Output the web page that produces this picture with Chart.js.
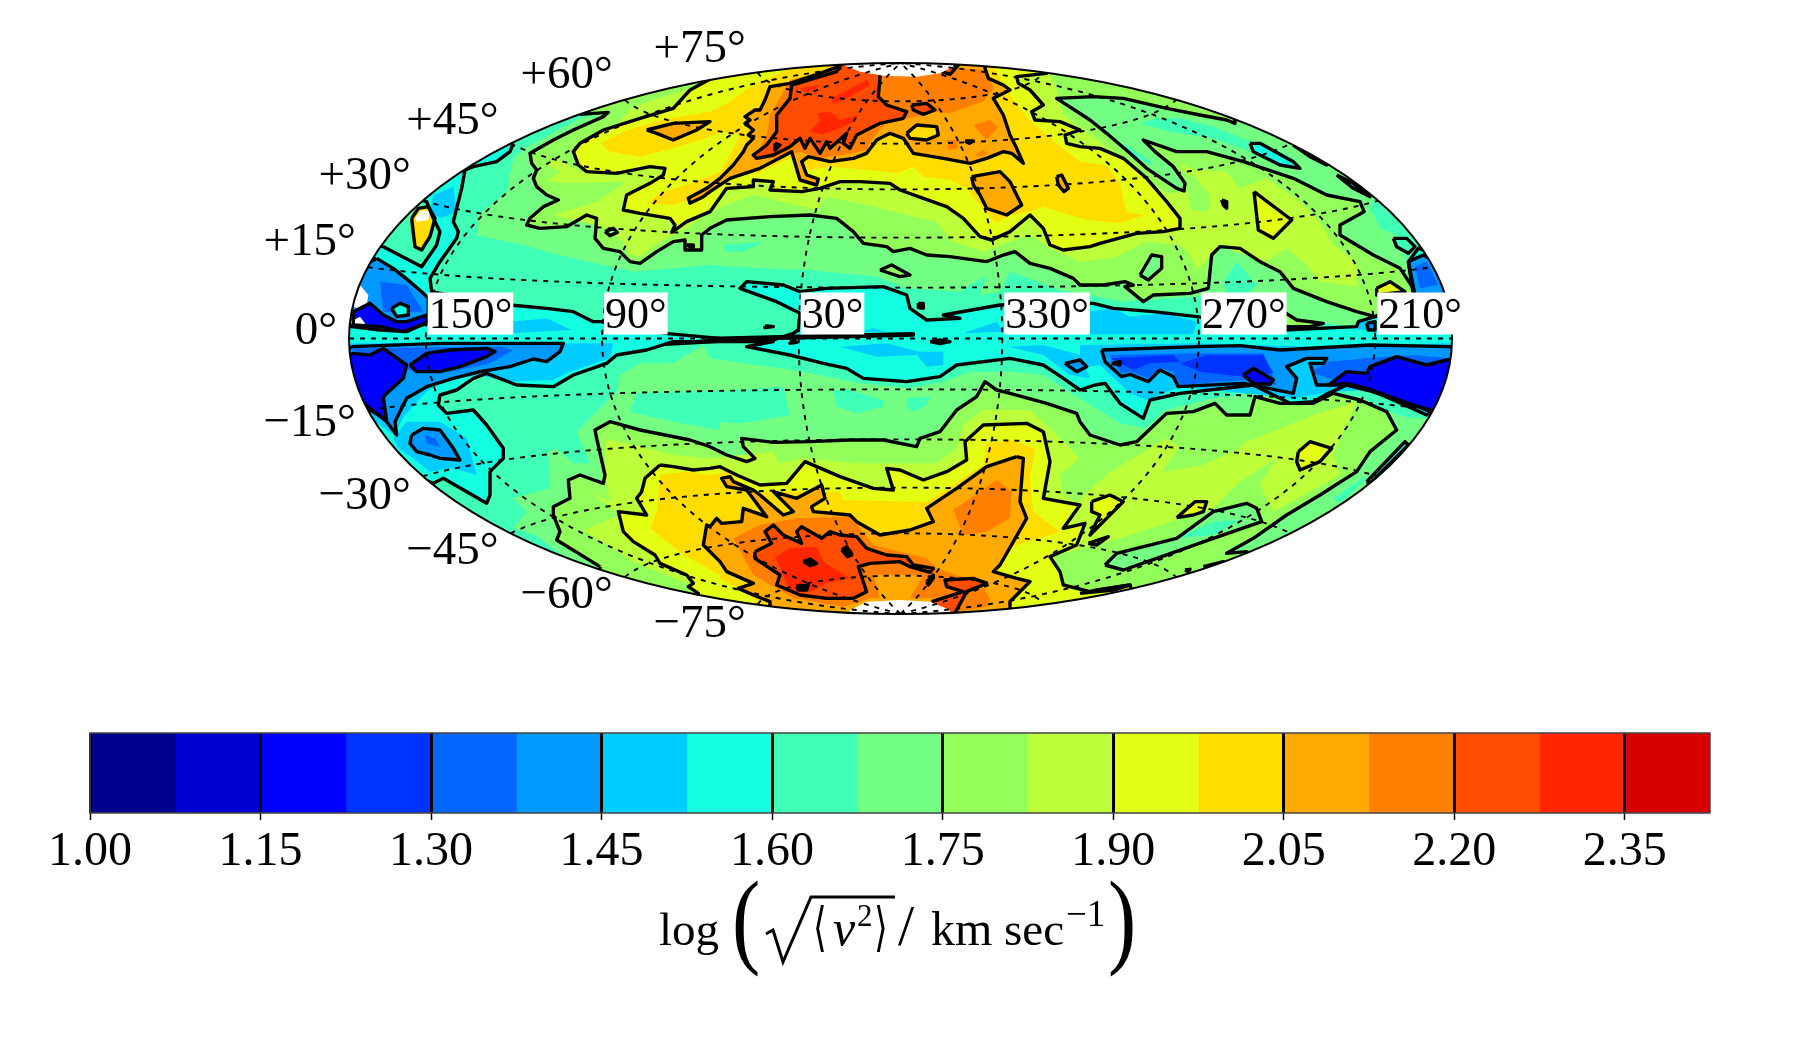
<!DOCTYPE html>
<html>
<head>
<meta charset="utf-8">
<title>Velocity dispersion sky map</title>
<script src="https://cdn.jsdelivr.net/npm/chart.js@4/dist/chart.umd.min.js"></script>
<style>
html,body{margin:0;padding:0;background:#fff;width:1800px;height:1050px;overflow:hidden}
canvas{position:absolute;left:0}
#skyMap{top:0}
#bandKey{top:700px}
</style>
</head>
<body>
<canvas id="skyMap" width="1800" height="700"></canvas>
<canvas id="bandKey" width="1800" height="350"></canvas>
<script>
// Colour bands of log(sqrt(<v^2>)/km s^-1), lowest to highest.
const bandColors = ['#00008f','#0000d0','#0000ff','#0033ff','#0066ff','#0099ff','#00ccff','#14ffe1',
  '#40ffb7','#73ff83','#93ff5b','#bcff3a','#e2ff14','#ffdd00','#ffaa00','#ff7f00','#ff4d00','#ff2600','#d60000'];
const bandStart = 1.0;
const bandStep = 0.075;
const keyTickValues = [1.00,1.15,1.30,1.45,1.60,1.75,1.90,2.05,2.20,2.35];

// Graticule of the Hammer projection, centred on longitude 0.
const meridians = [-150,-90,-30,30,90,150];
const parallels = [-75,-60,-45,-30,-15,0,15,30,45,60,75];
const longitudeLabels = [[-150,'150°'],[-90,'90°'],[-30,'30°'],[30,'330°'],[90,'270°'],[150,'210°']];
// Latitude, text, and the small vertical nudge each label needs off the rim.
const latitudeLabels = [[75,'+75°',-10],[60,'+60°',-12],[45,'+45°',-10],[30,'+30°',-12],[15,'+15°',-12],[0,'0°',5],
  [-15,'−15°',26],[-30,'−30°',33],[-45,'−45°',31],[-60,'−60°',31],[-75,'−75°',32]];

// Contours are digitised on six map sheets; each run names its sheet, then lists
// sheet-local points at three units to one unit of the projection plane.
const sheetOrigins = {A:[-560,-283],B:[-190,-283],C:[180,-283],D:[-560,-3],E:[-190,-3],F:[180,-3]};

const mapFrame = ['A -1000,-500','C 2000,-500','F 2000,2000','D -1000,2000'];

const band168North = ['A 555,280 720,190 830,160 830,-50',
 'C 1100,-50 1200,300 880,430 870,470 960,530 970,590 1000,680 1000,720 880,810 780,810 620,790 500,750 380,722 130,740 0,715',
 'B 1050,705 900,650 870,710 810,720 830,660 750,710 590,700 500,665 300,645 150,640 0,630',
 'A 880,650 680,605 550,570 410,540 415,480 500,410 520,310'];
const band168South = ['D 520,490 630,460 625,350 650,340 700,385 750,385 710,290 760,240 830,170 840,120 900,85 1000,85 1090,30',
 'E 0,70 140,90 280,110 450,145 600,160 700,140 780,110 900,110 1000,120 1090,180 1110,190',
 'F 120,265 200,280 255,225 400,190 520,175 700,195 840,185 950,240 1000,250 1200,250 1200,800 620,1000 0,1000',
 'D 1140,1000 585,600 520,580 560,530'];
const pockets160 = [
 ['C 180,205 270,230 400,250 500,285 590,320 660,345 640,310 560,270 500,255 400,215 300,190 230,190'],
 ['C 610,260 660,280 760,340 880,430 890,410 700,270'],
 ['C 130,265 215,320 210,330 150,295'],
 ['C 880,470 950,500 1000,540 960,545 900,520'],
 ['C 430,680 470,620 530,690 500,720 440,720'],
 ['B 40,570 160,560 100,590 50,590'],
 ['E 0,170 220,155 240,240 100,265 0,260'],
 ['D 870,230 890,175 1140,165 1140,285 1000,260'],
 ['E 370,170 400,160 520,195 520,215 440,235 380,215'],
 ['E 590,190 660,185 650,210 610,230 590,215'],
 ['F 760,490 860,420 850,440 780,505']];

const contour175North = ['A 720,178','B 0,-60 570,-80 1140,-60',
 'C 465,150 465,205 440,195 360,180 260,160 130,130 40,125 -70,130 30,195 80,235 150,295 200,340 290,400 312,408 315,385 280,335 225,290 190,255 290,290 380,290 490,320 640,370 740,420 840,440 852,470 780,510 780,540 880,600 960,640 1000,700 1010,780 885,785 830,770 740,740 640,700 600,650 540,620 480,580 420,575 395,600 385,700 330,715 220,720 190,740 135,695 160,690 135,680 70,690 0,690',
 'B 1090,670 1020,640 960,625 915,590 880,600 830,620 720,605 650,600 600,580 550,590 530,575 460,565 430,530 380,490 300,480 180,485 50,495 0,520',
 'A 1085,540 1085,585 1035,585 1035,555 1000,560 950,590 900,625 870,620 840,590 790,580 765,550 770,490 740,480 680,515 600,520 560,510 570,490 610,455 655,435 620,420 590,395 580,370 590,345 575,325 570,295 640,255 700,225 790,185 805,172'];
const contour175South = ['D 780,695 650,615 660,590 640,540 640,515 690,490 685,435 720,420 790,445 795,420 770,310 765,285 810,260 900,285 1050,315',
 'E 0,335 50,360 110,380 135,370 100,335 95,310 190,322 300,320 420,315 520,315 620,335 630,310 690,290 740,225 800,185 825,140 860,165 900,175 1010,205 1100,235 1110,260',
 'F 30,300 120,330 170,320 260,235 340,230 405,205 440,240 510,240 525,185 600,205 700,205 760,175 840,195 920,230 950,285 870,350 830,410 720,480 620,540 520,610 440,655 500,650 600,700 600,1000 0,1000',
 'D 1140,1000 780,720'];
const islands175 = [
 ['C 180,660 215,600 245,605 245,640 205,675'],
 ['F 75,690 110,655 290,610 400,530 500,505 530,520 545,560 400,610 230,670 130,705'],
 ['A 795,530 820,520 832,532 810,542']];
const islands175High = [
 ['B 510,645 545,630 600,660 570,665'],
 ['C 610,770 650,795 730,805 690,815 610,815']];
const pocket160Tongue = ['F 290,610 400,560 480,555 400,600'];

const band183North = ['A 880,155 1140,70','B 500,-50 1000,-50 1020,50 1040,100 1060,180',
 'C 60,260 140,320 190,370 260,415 325,410 330,370 290,320 340,345 440,350 480,400 560,370 660,440 720,500 760,570 830,620 830,695 720,680 680,630 620,580 560,620 500,600 420,575 350,645 330,600 300,570 200,560 100,610 0,620',
 'B 1020,580 960,540 870,570 820,590 730,560 680,500 630,490 470,450 350,425 320,465 130,420 0,470',
 'A 1040,520 960,560 900,605 870,600 850,560 800,520 640,480 770,440 860,380 700,385 620,380 660,350 620,330 650,310 720,350 850,360 900,330 740,345 700,300 780,260'];
const band183South = ['D 750,470 810,500 795,420 795,310 880,330 1000,360 1110,370',
 'E 190,350 205,385 280,370 440,385 680,385 740,340 760,270 820,225 960,225 1020,280 1110,370 1050,420 1060,480 1100,500',
 'F 85,415 260,310 300,335 245,410 370,390 480,340 490,325 700,240 830,200 790,290 760,360 780,420 580,530 540,450 590,370 480,440 400,520 120,610 -30,650',
 'E 1040,660 1030,680 1060,740 1140,770','F 150,745 200,900','D 1075,900 1075,760 880,680 730,585 840,540'];
const pocket175Tongue = ['C 330,350 390,420 385,470 335,465 325,420'];

const contour190North = ['A 1050,105 1000,160 900,190 790,225 720,265 700,290 715,330 740,350 830,355 930,335 975,340 970,360 930,385 860,420 850,465 900,475 990,490 1005,510 995,532 1040,500 1110,470',
 'B 50,400 130,395 130,375 190,380 180,405 275,410 330,400 390,380 450,380 540,385 570,405 640,430 710,455 760,490 810,545 845,555 900,530 960,480 1000,520 1020,570 1060,585 1140,575',
 'C 60,565 170,535 250,530 300,520 300,490 260,440 200,370 130,310 60,280 0,275',
 'B 1070,265 1065,240 1110,225 1050,200 975,195 965,170 1000,150 960,105 925,85 920,65 1010,55 1010,-50 60,-50 60,40'];
const contour190South = ['D 960,390 1000,395 1060,405 1110,400',
 'E 30,395 80,420 150,450 230,445 285,380 390,425 490,460 550,465 530,400 570,405 640,435 710,410 770,375 765,320 820,270 950,265 1000,290 1020,380 1000,490 1110,510 1060,580 1125,565 1100,630 1020,665 1050,710 1060,750 1140,770',
 'F 50,765 150,750 200,900','D 1075,900 1075,775 1045,755 1060,745 1040,720 960,685 945,660 880,620 850,590 835,530 920,540 890,490 905,470 915,430'];
const islands190 = [
 ['C 522,410 635,495 580,550 535,525'],
 ['F 655,350 690,320 755,340 720,380 660,405 650,380'],
 ['F 290,548 345,500 380,500 370,530 340,540'],
 ['F 35,500 90,480 130,500 70,560 30,600 60,540 35,530'],
 ['F 25,625 85,605 50,630'],
 ['C 890,700 930,680 975,710 890,720']];

const band198North = ['A 780,265 850,230 960,195 1110,170',
 'B 60,140 120,95 230,45 400,-50 825,-50 860,50 905,125 950,185 1010,240 1110,320',
 'C 80,330 120,385 140,470 195,480 120,505 20,495',
 'B 1000,455 960,470 900,480 860,505 825,470 770,400 720,375 640,365 610,335 560,355 470,345 360,335 300,345 240,310 150,350 60,370',
 'A 1100,415 1000,450 920,445 960,415 1040,390 1140,350','B 60,300 90,240 40,230 0,245','A 1000,280 900,305 810,290'];
const band198South = ['D 960,420 950,530 930,580 1030,660 1140,720',
 'E 30,730 130,790 180,900 880,900 880,790 950,740 860,710 890,640 1050,590 970,530 960,430 975,340 900,315 830,325 820,390 650,500 400,495 390,470 300,470 130,470 50,410 0,420',
 'D 1050,410 990,415'];

const contour205North = ['B 385,35 385,-50 825,-50 825,40 835,70 880,90 900,105 850,130 880,180 900,240 920,280 940,325 905,295 880,290 830,310 780,325 700,310 610,295 580,250 540,235 500,255 470,295 430,310 360,320 295,305 275,320 290,360 325,372 320,390 270,375 245,290 150,340 60,370 0,410',
 'A 1090,425 1050,445 1045,430 1100,400','B 30,370 70,330 100,290 110,270 130,250 115,240 130,225 105,205 120,195 105,185 135,165 150,165 165,135 180,95 240,85 330,55'];
const contour205South = ['E 920,365 830,395 740,460 650,520 670,560 600,585 510,600 440,560 420,540 310,530 305,515 345,490 335,450 260,490 190,470 250,530 220,540 150,480 130,465 70,440 60,425 35,430 50,455 110,465 170,545 100,520 95,560 35,565 20,550 0,575',
 'D 1100,570 1090,630 1140,680','E 50,710 130,745 85,760 130,780 180,800 180,900 900,900 900,800 920,780 960,740 920,730 850,710 870,690 950,550 930,500 940,370'];
const islands205 = [
 ['B 785,365 870,350 900,380 935,450 890,480 830,460 810,420 790,390'],
 ['A 920,225 1000,205 1110,200 1070,225 1000,255 950,235'],
 ['B 1040,365 1055,360 1075,400 1062,410 1045,390']];
const holes205 = [['B 590,235 620,210 680,215 685,240 650,255 600,250']];

const band213North = ['B 240,75 380,40 510,40 730,40 825,45 850,100 820,140 760,160 720,175 680,170 600,190 530,200 480,260 470,285 400,300 330,310 270,290 190,310 130,315 170,240 180,180 220,110'];
const band213South = ['E 70,610 150,570 260,550 420,545 490,630 650,670 680,700 810,745 840,790 830,815 740,830 700,790 650,790 480,790 400,815 250,790 130,720'];
const patches213 = [
 ['B 790,210 840,195 865,215 830,255'],
 ['B 710,255 740,255 745,280 715,285'],
 ['B 795,300 820,285 830,295 810,305'],
 ['E 730,525 860,435 905,470 900,550 830,590 760,600']];

const contour220North = ['B 510,65 505,125 530,150 590,170 580,190 510,205 440,240 420,280 400,265 410,235 360,280 350,260 330,295 300,250 285,280 270,250 240,275 190,300 140,310 130,300 170,270 200,230 200,180 240,130 245,90 380,50 400,20 510,20'];
const contour220South = ['E 135,650 185,625 165,590 190,570 220,600 275,625 260,590 275,575 335,610 360,590 390,600 440,605 470,640 530,660 590,665 610,690 670,700 660,712 600,695 570,680 480,685 445,695 470,770 430,790 350,790 270,780 200,750 210,720 135,670'];
const contour220SouthEast = ['E 665,800 760,770 710,755 705,735 790,730 830,745 770,770 740,825 700,900'];
const islands220 = [['B 605,150 650,145 675,165 640,178 610,165'],['B 695,30 695,50 720,58 745,30']];
const lensSouth205 = ['E 490,720 640,720 600,790 510,790'];
const patches228 = [
 ['B 270,100 330,90 310,105 280,110'],
 ['B 365,130 470,75 480,90 420,125 370,148'],
 ['B 320,175 360,170 390,195 445,180 430,200 390,220 340,238 300,230 330,195'],
 ['E 195,665 240,640 320,635 340,680 420,730 350,745 300,770 240,770']];

const contour160 = ['A 520,265 510,290 470,320 400,335 375,345 365,400 340,500 355,530 350,550 300,620 270,670 275,710 400,735 510,750 620,760 700,770 760,800 795,800 975,835 1140,850',
 'B 190,855 250,835 265,825 270,775 200,740 90,700 110,680 220,690 270,710 350,700 520,695 590,720 600,760 650,795 750,790 700,780 870,750 1000,745',
 'C 40,745 100,760 220,770 350,785 610,825 830,815 835,800 885,785 1000,720 985,620 1015,580 1200,640 1200,950',
 'F 1040,240 940,195 860,160 800,150 745,175 700,200 630,205 520,150 300,175 210,195 190,250 120,205 75,145 45,150 0,165',
 'E 1060,130 1000,90 900,70 740,90 690,125 590,140 460,130 410,100 340,85 240,60 110,35 190,20 0,20',
 'D 1000,20 920,45 830,60 800,85 700,120 640,155 530,150 440,115 400,130 350,165 300,180 295,210 320,235 400,225 440,270 490,340 490,370 450,410 450,480 440,505 310,430 280,445 -100,300 -100,0',
 'A -100,700 400,250'];
const loopNorthWest160 = ['A 130,575 245,635 290,570 300,530 280,490 260,440 100,400 40,560'];
const slivers160 = [
 ['C 510,265 540,265 640,320 660,340 600,330 520,290'],
 ['C 640,270 720,320 740,330 690,305'],
 ['C 770,360 820,385 870,425 820,400'],
 ['F 860,440 975,320 985,330 870,445'],
 ['A 155,760 180,745 205,755 205,780 170,785']];
const loopEastEdge160 = ['C 940,550 980,550 1005,575 985,595 950,575'];

const patches150 = [
 ['A 510,800 620,790 695,825 510,835'],
 ['C 20,770 100,760 150,785 250,775 350,800 340,838 20,838'],
 ['B 450,830 490,820 530,830'],
 ['B 760,835 860,800 880,830'],
 ['C 830,805 885,795 885,825 835,825'],
 ['D 160,300 195,240 260,170 310,135 420,120 500,140 640,135 690,110 810,70 820,25 35,25 -100,100'],
 ['E 390,35 530,25 630,50 700,50 700,90 650,95 620,60 500,65'],
 ['E 895,35 1000,30 1110,60 1140,130 1080,120 1000,60'],
 ['F 0,30 350,25 700,35 1110,25 1200,150 1040,240 860,165 760,170 640,190 300,155 200,195 150,175 60,90 0,100'],
 ['D 160,310 200,260 300,260 380,310 410,420 340,400 270,410 220,370 175,340'],
 ['A 280,420 340,395 350,470 300,490 270,470']];

const contours145 = [
 ['D 35,35 300,25 670,25 660,50 620,80 580,72 510,95 420,110 340,130 260,155 200,190 165,260 170,300 140,260 90,220 -50,100'],
 ['F 65,45 350,35 480,32 600,45 870,30 1110,35 1200,100 1200,300 1040,225 860,160 800,145 745,150 710,150 690,85 730,85 740,70 680,70 620,95 650,130 640,175 490,145 295,155 280,125 240,105 205,140 150,118 125,125 75,80'],
 ['A 110,610 160,640 210,680 250,715 265,730 265,800 200,830 120,825 35,815 -50,700'],
 ['E 1065,85 1110,75 1130,95 1100,110'],
 ['D 215,300 250,280 300,285 340,340 360,375 300,370 270,360 230,350 210,325'],
 ['C 985,620 1030,600 1100,640 1100,720 1005,720'],
 ['C 860,805 885,800 885,825 865,825']];
const patches138 = [
 ['D 130,150 200,100 230,115 330,110 450,85 520,45 480,35 35,40'],
 ['F 90,60 340,55 550,55 590,150 490,135 300,150 280,110 240,100 205,130 150,110 125,115'],
 ['F 690,110 745,80 860,70 1000,60 1110,70 1110,130 1050,200 860,150 745,130'],
 ['A 120,680 200,690 250,770 130,770'],
 ['D 255,300 285,310 300,335 260,325'],
 ['C 1005,635 1040,620 1075,690 1020,700']];
const patches123 = [
 ['F 90,70 280,60 300,80 210,85 160,105'],
 ['F 300,85 380,60 550,60 580,115 490,125 360,110']];
const contours130 = [
 ['D 35,55 90,60 130,40 200,90 190,130 135,180 130,190 140,255 90,225 -50,100'],
 ['D 210,90 260,55 330,45 440,40 465,50 440,65 360,95 300,110 230,110'],
 ['F 490,120 520,100 580,135 570,148 520,145'],
 ['F 745,150 800,110 860,115 870,95 950,65 1040,90 1100,75 1200,60 1200,300 1050,225 860,165 800,150'],
 ['A 40,770 90,745 130,780 170,800 200,800 260,780 260,805 190,830 120,815 40,810']];

// Very small closed contours that read as solid specks.
const specks = [
 ['B 0,850 300,843 610,836 610,840 300,848 0,855'],
 ['A 975,866 1140,855 1140,859 975,868'],
 ['E 660,20 690,15 720,20 690,26'],
 ['E 240,20 255,17 260,22 240,25'],
 ['B 165,812 190,815 165,818'],
 ['C 425,435 440,440 440,460 430,450'],
 ['A 1040,570 1060,570 1060,580'],
 ['B 765,258 790,258 778,265'],
 ['B 195,265 210,270 195,285'],
 ['B 625,745 640,745 640,760 625,758'],
 ['E 280,680 300,672 320,685 300,692'],
 ['E 260,755 295,750 290,765 265,765'],
 ['E 650,740 670,720 670,730 655,750'],
 ['E 395,645 410,635 425,660 412,665'],
 ['F 95,85 120,80 120,90'],
 ['F 315,705 330,703 325,710'],
 ['F 370,695 430,680 400,695'],
 ['F 0,775 60,765 150,750 100,765']];

// Pixels without enough stars are left blank.
const blankPolarNorth = ['B 400,-50 400,30 450,50 520,62 620,65 690,55 730,35 730,-50'];
const blankPolarSouth = ['E 420,900 420,825 470,800 570,795 660,800 720,825 720,900'];
const blankEdge = [
 ['A 20,740 60,690 85,720 80,750 50,760'],
 ['A 30,800 60,785 75,805 55,820 30,815'],
 ['A 225,490 245,465 270,470 265,495 230,500']];
const edgeBlob = ['A 215,490 235,460 265,455 285,490 270,545 245,585 225,575 220,535'];

// Projection plane: one unit per device pixel, semi-axes 551.5 by 275.5.
const planeCentre = {x:0.5, y:0.5};
const planeRadius = {x:551.5, y:275.5};

function ring(runs){
  const pts = [];
  runs.forEach(run => {
    const parts = run.trim().split(/\s+/);
    const o = sheetOrigins[parts[0]];
    parts.slice(1).forEach(p => {
      const [a,b] = p.split(',').map(Number);
      pts.push({x:a/3+o[0], y:b/3+o[1]});
    });
  });
  pts.push({...pts[0]});
  return pts;
}
function hammer(lon, lat){
  const l = lon*Math.PI/360, f = lat*Math.PI/180;
  const d = Math.sqrt(1+Math.cos(f)*Math.cos(l));
  return {x: planeCentre.x + planeRadius.x*Math.cos(f)*Math.sin(l)/d,
          y: planeCentre.y - planeRadius.y*Math.sin(f)/d};
}
const band = i => bandColors[i];
const datasets = [];
function area(runs, color){
  datasets.push({data:ring(runs), showLine:true, fill:'shape', backgroundColor:color, borderWidth:0, pointRadius:0, tension:0});
}
function outline(runs){
  datasets.push({data:ring(runs), showLine:true, fill:false, borderColor:'#000', borderWidth:3.4, borderJoinStyle:'round', pointRadius:0, tension:0});
}

// Fills from the plain background upward, then the low-velocity plane on top.
area(mapFrame, band(8));
area(band168North, band(9)); area(band168South, band(9));
pockets160.forEach(r => area(r, band(8)));
area(contour175North, band(10)); area(contour175South, band(10));
area(band183North, band(11)); area(band183South, band(11));
area(pocket175Tongue, band(10));
islands175.forEach(r => area(r, band(9)));
area(pocket160Tongue, band(8));
islands175High.forEach(r => area(r, band(10)));
area(contour190North, band(12)); area(contour190South, band(12));
area(band198North, band(13)); area(band198South, band(13));
islands190.forEach(r => area(r, band(12)));
area(contour205North, band(14)); area(contour205South, band(14));
islands205.forEach(r => area(r, band(14)));
holes205.forEach(r => area(r, band(13)));
area(band213North, band(15)); area(band213South, band(15));
patches213.forEach(r => area(r, band(15)));
area(contour220North, band(16)); area(contour220South, band(16)); area(contour220SouthEast, band(16));
islands220.forEach(r => area(r, band(16)));
patches228.forEach(r => area(r, band(17)));
area(lensSouth205, band(14));
area(contour160, band(7));
area(loopNorthWest160, band(8));
area(edgeBlob, band(13));
area(blankEdge[2], '#fff');
area(loopEastEdge160, band(8));
patches150.forEach(r => area(r, band(6)));
contours145.forEach(r => area(r, band(5)));
patches138.forEach(r => area(r, band(4)));
patches123.forEach(r => area(r, band(3)));
contours130.forEach(r => area(r, band(2)));
slivers160.forEach(r => area(r, band(7)));
area(blankEdge[0], '#fff'); area(blankEdge[1], '#fff');

// Black contour lines at every second band edge.
[contour175North, contour175South, contour190North, contour190South, contour205North, contour205South,
 contour220North, contour220South, contour220SouthEast, contour160, loopNorthWest160, loopEastEdge160, edgeBlob
].forEach(outline);
[islands175, islands175High, islands190, islands205, holes205, islands220, slivers160, contours145, contours130, specks]
  .forEach(group => group.forEach(outline));
specks.forEach(r => area(r, '#000'));

// The polar caps stay blank, so they go over the contours.
area(blankPolarNorth, '#fff'); area(blankPolarSouth, '#fff');

// Dotted graticule.
const dotted = pts => datasets.push({data:pts, showLine:true, fill:false, borderColor:'#000', borderWidth:1.9,
  borderDash:[5,6], pointRadius:0, tension:0});
parallels.forEach(lat => { const p=[]; for(let lon=-180;lon<=180;lon+=5) p.push(hammer(lon,lat)); dotted(p); });
meridians.forEach(lon => { const p=[]; for(let lat=-90;lat<=90;lat+=3) p.push(hammer(lon,lat)); dotted(p); });

datasets.forEach((d,i) => { d.order = -i; });

const skyFrame = {
  id:'skyFrame',
  beforeDatasetsDraw(chart){
    const {ctx, scales:{x,y}} = chart;
    const cx=x.getPixelForValue(planeCentre.x), cy=y.getPixelForValue(planeCentre.y);
    ctx.save();
    ctx.beginPath();
    ctx.ellipse(cx,cy,planeRadius.x,planeRadius.y,0,0,Math.PI*2);
    ctx.clip();
  },
  afterDatasetsDraw(chart){
    const {ctx, scales:{x,y}} = chart;
    ctx.restore();
    const cx=x.getPixelForValue(planeCentre.x), cy=y.getPixelForValue(planeCentre.y);
    ctx.save();
    ctx.lineWidth=2; ctx.strokeStyle='#000';
    ctx.beginPath(); ctx.ellipse(cx,cy,planeRadius.x,planeRadius.y,0,0,Math.PI*2); ctx.stroke();
    ctx.font='44px "Liberation Serif"'; ctx.fillStyle='#000'; ctx.textBaseline='alphabetic';
    // Longitude labels sit on a white plate just above the equator.
    longitudeLabels.forEach(([lon,text]) => {
      const p=hammer(lon,0), left=x.getPixelForValue(p.x)+2, width=ctx.measureText(text).width+2;
      ctx.fillStyle='#fff'; ctx.fillRect(left, cy-46, width, 42);
      ctx.fillStyle='#000'; ctx.textAlign='left'; ctx.fillText(text, left+1, cy-11);
    });
    // Latitude labels follow the left rim of the map.
    ctx.font='47px "Liberation Serif"'; ctx.textAlign='right';
    latitudeLabels.forEach(([lat,text,nudge]) => {
      const p=hammer(-180,lat);
      ctx.fillText(text, x.getPixelForValue(p.x)-12, y.getPixelForValue(p.y)+nudge);
    });
    ctx.restore();
  }
};

new Chart(document.getElementById('skyMap'), {
  type:'scatter',
  data:{datasets},
  plugins:[skyFrame],
  options:{
    responsive:false, animation:false, events:[], devicePixelRatio:1,
    layout:{padding:{left:348,right:348,top:62,bottom:86}},
    plugins:{legend:{display:false},tooltip:{enabled:false}},
    scales:{
      x:{type:'linear',display:false,min:-552,max:552},
      y:{type:'linear',display:false,min:-276,max:276,reverse:true}
    }
  }
});

// Colour key: one floating segment per band.
const keyCategories = ['band'];
const keyDatasets = bandColors.map((c,i) => ({
  data:[[bandStart+bandStep*i, bandStart+bandStep*(i+1)]],
  backgroundColor:c, borderWidth:0, barPercentage:1, categoryPercentage:1, grouped:false}));
const keyEnd = bandStart + bandStep*bandColors.length;

const keyFrame = {
  id:'keyFrame',
  afterDraw(chart){
    const {ctx, chartArea:a} = chart;
    ctx.save();
    ctx.strokeStyle='#444'; ctx.lineWidth=1.5;
    ctx.strokeRect(a.left,a.top,a.right-a.left,a.bottom-a.top);
    // Axis caption, set piece by piece on a common baseline.
    const base = 245;
    const put = (text,px,size,style,y) => { ctx.font=(style||'')+' '+size+'px "Liberation Serif"'; ctx.fillText(text,px,y===undefined?base:y); };
    ctx.fillStyle='#000'; ctx.textAlign='left'; ctx.textBaseline='alphabetic';
    put('log',659,47);
    const paren = (text,px) => { ctx.save(); ctx.translate(px,254); ctx.scale(0.8,1); ctx.font='106px "Liberation Serif"'; ctx.fillText(text,0,0); ctx.restore(); };
    paren('(',732); paren(')',1108);
    ctx.lineWidth=3; ctx.strokeStyle='#000'; ctx.lineJoin='miter';
    ctx.beginPath(); ctx.moveTo(766,234); ctx.lineTo(773,230); ctx.lineTo(783,262); ctx.lineTo(811,197); ctx.lineTo(895,197); ctx.stroke();
    ctx.save(); ctx.translate(813,245); ctx.scale(0.8,1.2); ctx.font='44px "DejaVu Serif"'; ctx.fillText('⟨',0,0); ctx.restore();
    put('v',833,50,'italic');
    put('2',857,31,'',226);
    ctx.save(); ctx.translate(874,245); ctx.scale(0.8,1.2); ctx.font='44px "DejaVu Serif"'; ctx.fillText('⟩',0,0); ctx.restore();
    put('/',898,58);
    put('km',931,48);
    put('sec',1004,47);
    put('−1',1066,37,'',226);
    ctx.restore();
  }
};

new Chart(document.getElementById('bandKey'), {
  type:'bar',
  data:{labels:keyCategories, datasets:keyDatasets},
  plugins:[keyFrame],
  options:{
    indexAxis:'y', responsive:false, animation:false, events:[], devicePixelRatio:1,
    layout:{padding:{left:90,right:90,top:33,bottom:157}},
    plugins:{legend:{display:false},tooltip:{enabled:false}},
    scales:{
      x:{type:'linear',min:bandStart,max:keyEnd,
        afterFit(s){ s.height=80; },
        afterBuildTicks(s){ s.ticks = keyTickValues.map(value => ({value})); },
        border:{display:false},
        grid:{color:'#000',lineWidth:3,z:1,drawTicks:true,tickLength:7,tickColor:'#000',tickWidth:1.5},
        ticks:{autoSkip:false,maxRotation:0,padding:4,color:'#000',
          font:{family:'"Liberation Serif"',size:48},
          callback:v => v.toFixed(2)}},
      y:{display:false}
    }
  }
});
</script>
</body>
</html>
